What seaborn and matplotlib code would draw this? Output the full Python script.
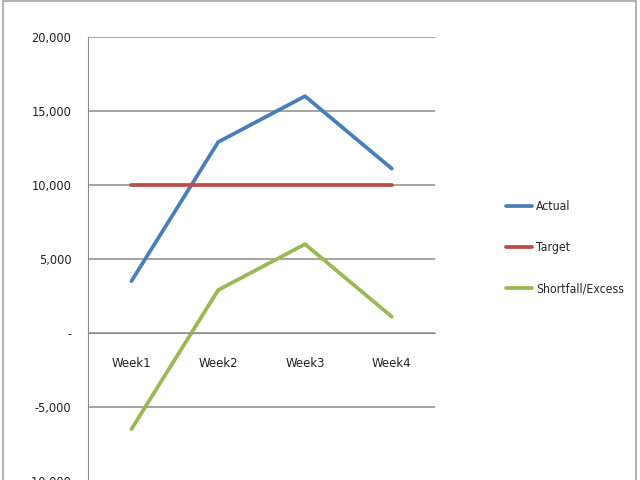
import numpy as np
import pandas as pd
import matplotlib
matplotlib.use('Agg')
import matplotlib.pyplot as plt
import seaborn as sns
from matplotlib.patches import Rectangle
from matplotlib.ticker import FixedLocator, FuncFormatter

# Datos
weeks = ['Week1', 'Week2', 'Week3', 'Week4']
actual = [3500, 12900, 16000, 11100]
target = [10000, 10000, 10000, 10000]
shortfall = [-6500, 2900, 6000, 1100]

series_names = ['Actual', 'Target', 'Shortfall/Excess']
colores = ['#4A7EBB', '#BE4B48', '#98B954']

df = pd.DataFrame({
    'Week': weeks * 3,
    'Value': actual + target + shortfall,
    'Serie': [series_names[0]] * 4 + [series_names[1]] * 4 + [series_names[2]] * 4,
})

sns.set_style('white')
plt.rcParams['font.family'] = ['DejaVu Sans']
plt.rcParams['font.stretch'] = 'condensed'

fig = plt.figure(figsize=(6.4, 4.8), dpi=100)
ax = fig.add_axes([0.1375, -0.002, 0.5425, 0.925])

sns.lineplot(data=df, x='Week', y='Value', hue='Serie', palette=colores,
             linewidth=2.7, solid_capstyle='round', ax=ax, sort=False)

ax.set_xlim(-0.5, 3.5)
ax.set_ylim(-10000, 20000)
ax.set_yticks(np.arange(-10000, 20001, 5000))

def fmt(v, pos):
    if v == 0:
        return '-'
    return f'{int(v):,}'
ax.yaxis.set_major_formatter(FuncFormatter(fmt))

ax.grid(axis='y', color='#8c8c8c', linewidth=1.1)
ax.grid(axis='x', visible=False)

# Eje X en el cero con marcas entre categorías
ax.spines['bottom'].set_position(('data', 0))
ax.spines['bottom'].set_color('#8c8c8c')
ax.spines['left'].set_color('#8c8c8c')
ax.spines['top'].set_visible(False)
ax.spines['right'].set_visible(False)

ax.xaxis.set_minor_locator(FixedLocator([-0.5, 0.5, 1.5, 2.5, 3.5]))
ax.tick_params(axis='x', which='major', length=0, pad=17, labelsize=9.4, colors='#222222')
ax.tick_params(axis='x', which='minor', length=5, color='#8c8c8c', direction='out')
ax.tick_params(axis='y', which='major', length=3, color='#8c8c8c', direction='out',
               labelsize=9.2, colors='#222222', pad=9)
ax.set_xlabel('')
ax.set_ylabel('')

leg = ax.legend(loc='center left', bbox_to_anchor=(1.171, 0.525), frameon=False,
                labelspacing=2.3, handlelength=2.2, handletextpad=0.3, fontsize=8.8)
for h in leg.get_lines():
    h.set_linewidth(2.7)
    h.set_solid_capstyle('round')

# Marco del gráfico
fig.patches.append(Rectangle((0.004, -0.01), 0.99, 1.007, transform=fig.transFigure,
                             fill=False, edgecolor='#a6a6a6', linewidth=1.2))

fig.savefig('out.png', dpi=100)
